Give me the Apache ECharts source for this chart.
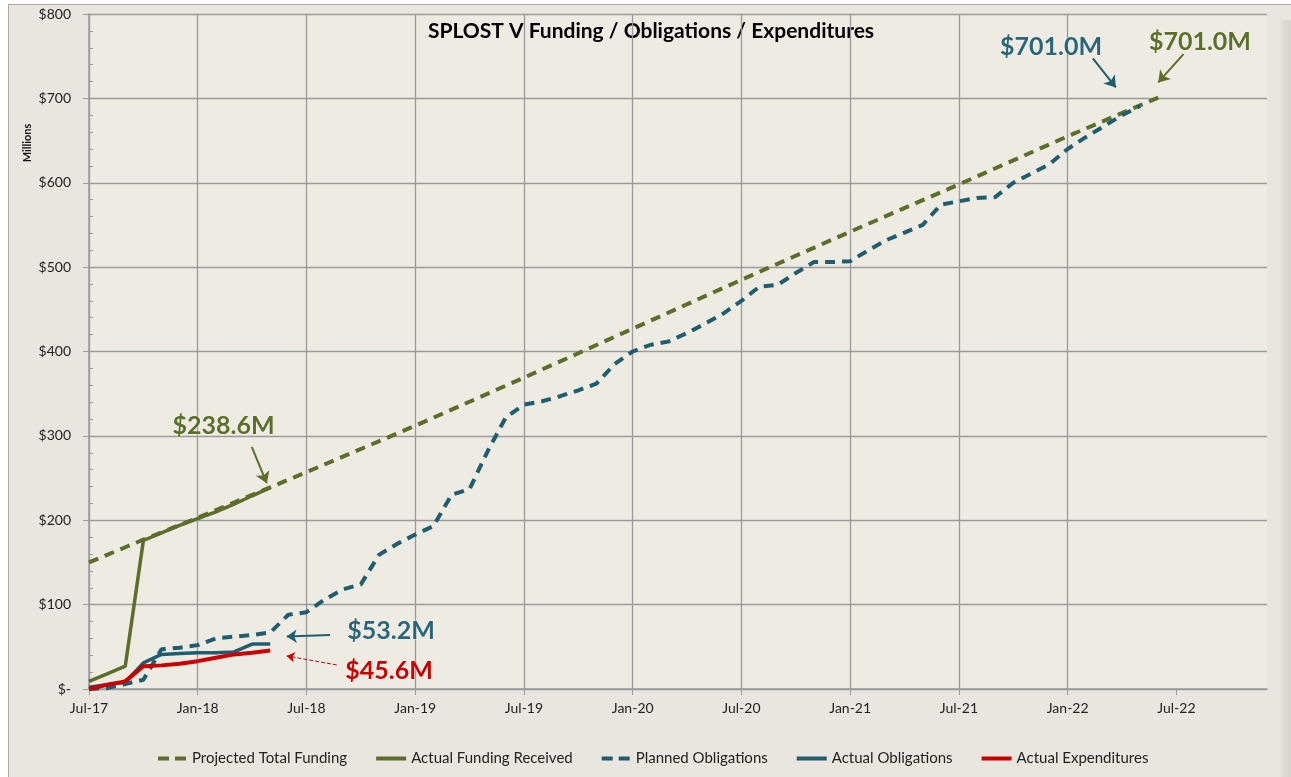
<!DOCTYPE html>
<html>
<head>
<meta charset="utf-8">
<script src="https://cdn.jsdelivr.net/npm/echarts@6/dist/echarts.min.js"></script>
<style>
html,body{margin:0;padding:0;background:#ffffff;}
#frame{position:absolute;left:8px;top:4px;width:1283px;height:773px;background:#E8E6DF;border-left:1px solid #A9A9A9;border-top:1px solid #A9A9A9;box-sizing:border-box;}
#bevel{position:absolute;left:1281px;top:20px;width:10px;height:757px;background:linear-gradient(to right,#E2E0D9,#D6D4CD);}
#chart{position:absolute;left:0;top:0;width:1291px;height:777px;}
</style>
</head>
<body>
<div id="frame"></div>
<div id="bevel"></div>
<div id="chart"></div>
<script>
// ---- Data (month index: 0 = Jul-17) ----
const tickLabels = ['Jul-17','Jan-18','Jul-18','Jan-19','Jul-19','Jan-20','Jul-20','Jan-21','Jul-21','Jan-22','Jul-22'];

const projMonths = [0,1,2,3,6,10,12,18,24,30,36,42,48,54,59];
const projValues = [150,159,168,177,203,239,257,312,369,427,485,542,598,655,701];

const fundMonths = [0,1,2,3,4,5,6,7,8,9,10];
const fundValues = [9,18,27,176,185,194,202,210,219,229,238.6];

const planMonths = [0,1,2,3,4,5,6,7,8,9,10,11,12,13,14,15,16,17,18,19,20,21,22,23,24,25,26,27,28,29,30,31,32,33,34,35,36,37,38,39,40,41,42,43,44,45,46,47,48,49,50,51,52,53,54,55,56,57,58];
const planValues = [0,1,6,11,47,49,52,60,62,64,67,88,91,106,118,124,159,172,183,193,230,237,282,322,337,341,347,354,362,385,400,408,412,422,433,445,460,477,479,493,506,506,507,520,532,541,550,574,578,582,583,600,611,622,640,654,667,680,691];

const oblMonths = [0,1,2,3,4,5,6,7,8,9,10];
const oblValues = [2,5,8,31,41,42,43,43,44,53.2,53.2];

const expMonths = [0,1,2,3,4,5,6,7,8,9,10];
const expValues = [0,5,9,27,28,30,33,37,41,43,45.6];

// annotation texts
const annotProj = '$701.0M';
const annotPlan = '$701.0M';
const annotFund = '$238.6M';
const annotObl = '$53.2M';
const annotExp = '$45.6M';

const OLIVE = '#5B6F2A';
const TEAL = '#1F5E70';
const TEAL_TXT = '#2A6679';
const RED = '#CC0000';
const FONT = 'Lato, "Open Sans", sans-serif';
const ICON_SOLID = 'path://M0,0h30v4h-30z';
const ICON_DASH = 'path://M0,0h11v4h-11zM17,0h11v4h-11z';

function pairs(ms, vs){ return ms.map((m,i)=>[m, vs[i]]); }

function arrow(from, to, color, width, type, size){
  return {
    silent:true, symbol:['none','arrow'], symbolSize:size || 11,
    label:{show:false},
    lineStyle:{color:color, width:width, type:type || 'solid'},
    emphasis:{disabled:true},
    data:[[{coord:from},{coord:to}]]
  };
}
function textMark(coord, text, color){
  return {
    silent:true,
    symbol:'circle', symbolSize:0,
    data:[{coord:coord, value:text}],
    label:{show:true, position:'inside', formatter:text, color:color,
      fontFamily:FONT, fontWeight:'bold', fontSize:25,
      textBorderColor:'rgba(255,255,255,0.5)', textBorderWidth:1}
  };
}

const chart = echarts.init(document.getElementById('chart'), null, {renderer:'canvas'});

const option = {
  animation:false,
  backgroundColor:'transparent',
  textStyle:{fontFamily:FONT},
  graphic:[
    {type:'text', x:651, y:31, style:{text:'SPLOST V Funding / Obligations / Expenditures', fill:'#000', font:'bold 21px ' + FONT, align:'center', verticalAlign:'middle'}},
    {type:'text', x:27, y:143, rotation:Math.PI/2, style:{text:'Millions', fill:'#111', font:'bold 11px ' + FONT, align:'center', verticalAlign:'middle'}}
  ],
  grid:{left:89, right:24, top:14, bottom:88, show:true, backgroundColor:'#EDEBE2', borderWidth:0},
  legend:{
    left:153, bottom:6, itemWidth:30, itemHeight:4, itemGap:29,
    textStyle:{fontFamily:FONT, fontSize:15, color:'#222'},
    data:[
      {name:'Projected Total Funding', icon:ICON_DASH},
      {name:'Actual Funding Received', icon:ICON_SOLID},
      {name:'Planned Obligations', icon:ICON_DASH},
      {name:'Actual Obligations', icon:ICON_SOLID},
      {name:'Actual Expenditures', icon:ICON_SOLID}
    ]
  },
  xAxis:{
    type:'value', min:0, max:65, interval:6,
    axisLine:{show:true, lineStyle:{color:'#9A9A9A', width:1.5}},
    axisTick:{show:true, length:6, customValues:tickLabels.map((t,i)=>i*6), lineStyle:{color:'#9A9A9A'}},
    axisLabel:{margin:12, fontSize:14, color:'#222', fontFamily:FONT,
      customValues:tickLabels.map((t,i)=>i*6),
      formatter:function(v){ const i = Math.round(v/6); return (v % 6 === 0 && tickLabels[i]) ? tickLabels[i] : ''; }},
    splitLine:{show:true, showMaxLine:false, lineStyle:{color:'#9A9A9A', width:1.3}}
  },
  yAxis:[{
    type:'value', min:0, max:800, interval:100,
    axisLine:{show:true, lineStyle:{color:'#9A9A9A', width:1.5}},
    axisTick:{show:true, length:6, lineStyle:{color:'#9A9A9A'}},
    axisLabel:{margin:18, fontSize:14, color:'#222', fontFamily:FONT,
      formatter:function(v){ return v === 0 ? '$-' : '$' + v; }},
    splitLine:{show:true, lineStyle:{color:'#9A9A9A', width:1.3}}
  },{
    type:'value', min:0, max:800, interval:20, position:'left',
    axisLine:{show:false},
    axisTick:{show:true, inside:true, length:4, lineStyle:{color:'#9A9A9A'}},
    axisLabel:{show:false},
    splitLine:{show:false}
  }],
  series:[
    {
      name:'Projected Total Funding', type:'line', symbol:'none', z:2,
      data:pairs(projMonths, projValues),
      lineStyle:{color:OLIVE, width:4, type:[10,7]}, itemStyle:{color:OLIVE},
      markLine:arrow([60.39,752.5],[59.0,718.9], OLIVE, 2, 'solid', 11),
      markPoint:textMark([61.3,766.8], annotProj, OLIVE)
    },
    {
      name:'Actual Funding Received', type:'line', symbol:'none', z:3,
      data:pairs(fundMonths, fundValues),
      lineStyle:{color:OLIVE, width:3.5}, itemStyle:{color:OLIVE},
      markLine:arrow([8.98,287],[9.81,244], OLIVE, 2, 'solid', 11),
      markPoint:textMark([7.42,311.5], annotFund, OLIVE)
    },
    {
      name:'Planned Obligations', type:'line', symbol:'none', z:4,
      data:pairs(planMonths, planValues),
      lineStyle:{color:TEAL, width:4, type:[10,7]}, itemStyle:{color:TEAL},
      markLine:arrow([55.39,747.4],[56.66,712.9], TEAL, 2, 'solid', 11),
      markPoint:textMark([53.08,760.8], annotPlan, TEAL_TXT)
    },
    {
      name:'Actual Obligations', type:'line', symbol:'none', z:5,
      data:pairs(oblMonths, oblValues),
      lineStyle:{color:TEAL, width:3.5}, itemStyle:{color:TEAL},
      markLine:arrow([13.3,64.1],[10.91,62.1], TEAL, 2, 'solid', 10),
      markPoint:textMark([16.67,68.8], annotObl, TEAL_TXT)
    },
    {
      name:'Actual Expenditures', type:'line', symbol:'none', z:6,
      data:pairs(expMonths, expValues),
      lineStyle:{color:RED, width:4}, itemStyle:{color:RED},
      markLine:arrow([13.67,28.5],[10.91,39.2], RED, 1, 'dashed', 8),
      markPoint:textMark([16.56,21.4], annotExp, RED)
    }
  ]
};
chart.setOption(option);
</script>
</body>
</html>
